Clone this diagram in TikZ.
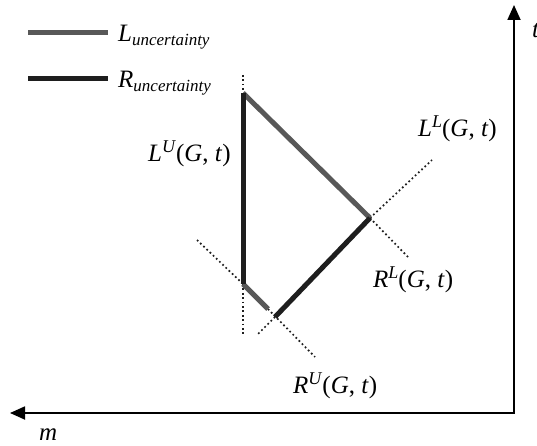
\documentclass[tikz,border=0pt]{standalone}
\usepackage{fontspec}
\setmainfont{Liberation Serif}
\usetikzlibrary{arrows.meta}
\definecolor{lgray}{RGB}{88,88,88}
\definecolor{rdark}{RGB}{30,30,30}
\newcommand{\lbl}[2]{\textit{#1}\raisebox{9bp}{\fontsize{18bp}{20bp}\selectfont\textit{#2}}(\textit{G}, \textit{t})}
\newcommand{\unc}[1]{\textit{#1}\raisebox{-3.5bp}{\fontsize{17bp}{20bp}\selectfont\textit{uncertainty}}}
\tikzset{
  axisline/.style={line width=1.8bp, line join=miter, {Triangle[length=15bp,width=13bp]}-{Triangle[length=15bp,width=13bp]}},
  Lline/.style={line width=5bp, draw=lgray},
  Rline/.style={line width=5bp, draw=rdark},
  dotline/.style={line width=1.7bp, draw=rdark, dash pattern=on 1.7bp off 2.7bp},
  txt/.style={inner sep=0pt, anchor=base west},
}
\begin{document}
\begin{tikzpicture}[x=1bp,y=-1bp,font=\fontsize{25bp}{30bp}\selectfont]
\useasboundingbox (0,0) rectangle (537,446);
% axes
\coordinate (O) at (514,413);
\coordinate (T) at (514,5);
\coordinate (M) at (10,413);
\draw[axisline] (M) -- (O) -- (T);
\node[txt] (tlab) at (532,38) {\textit{t}};
\node[txt] (mlab) at (39,440) {\textit{m}};
% legend
\coordinate (l1a) at (28,33); \coordinate (l1b) at (108,33);
\coordinate (l2a) at (28,79); \coordinate (l2b) at (108,79);
\draw[Lline] (l1a) -- (l1b);
\draw[Rline] (l2a) -- (l2b);
\node[txt] (legL) at (118,42) {\unc{L}};
\node[txt] (legR) at (118,88) {\unc{R}};
% key points
\coordinate (A) at (243,93);
\coordinate (B) at (370,218);
\coordinate (C) at (243,284);
\coordinate (D) at (268,309);
\coordinate (E) at (275,317);
% dotted extensions
\coordinate (Atop) at (243,75);
\coordinate (Cbot) at (243,336);
\coordinate (Cext) at (197,240);
\coordinate (Dext) at (315,357);
\coordinate (Eext) at (257,335);
\coordinate (BLext) at (432,160);
\coordinate (BRext) at (408,257);
\draw[dotline] (Atop) -- (A);
\draw[dotline] (C) -- (Cbot);
\draw[dotline] (Cext) -- (C);
\draw[dotline] (D) -- (Dext);
\draw[dotline] (E) -- (Eext);
\draw[dotline] (B) -- (BLext);
\draw[dotline] (B) -- (BRext);
% uncertainty lines
\draw[Lline] (A) -- (B);
\draw[Lline] (C) -- (D);
\draw[Rline] (A) -- (C);
\draw[Rline] (E) -- (B);
% labels
\node[txt] (LU) at (148,162) {\lbl{L}{U}};
\node[txt] (LL) at (418,137) {\lbl{L}{L}};
\node[txt] (RL) at (373,287) {\lbl{R}{L}};
\node[txt] (RU) at (293,393) {\lbl{R}{U}};
\end{tikzpicture}
\end{document}
